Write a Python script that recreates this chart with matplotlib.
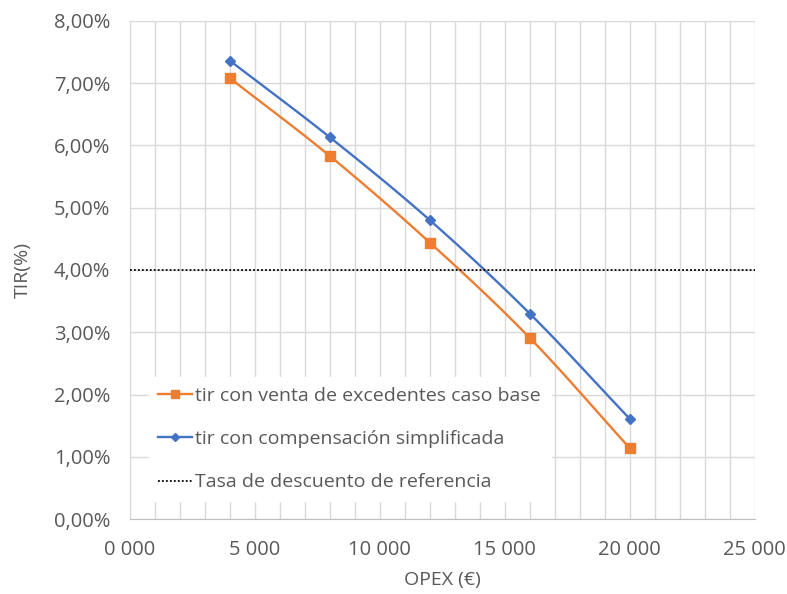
import matplotlib.pyplot as plt
import numpy as np
from matplotlib.ticker import FuncFormatter, MultipleLocator

plt.rcParams['font.family'] = ['Open Sans', 'DejaVu Sans']

# OPEX (€) and internal rate of return (%)
opex = [4000, 8000, 12000, 16000, 20000]
tir_venta = [7.08, 5.83, 4.44, 2.91, 1.14]
tir_compensacion = [7.36, 6.13, 4.80, 3.30, 1.61]
tasa_referencia = 4.0

orange = '#ED7D31'
blue = '#4472C4'
grey = '#595959'


def smooth(x, y, n=30):
    # Catmull-Rom curve through the points, like a smoothed line in a spreadsheet
    x = np.asarray(x, float)
    y = np.asarray(y, float)
    px = np.concatenate([[2 * x[0] - x[1]], x, [2 * x[-1] - x[-2]]])
    py = np.concatenate([[2 * y[0] - y[1]], y, [2 * y[-1] - y[-2]]])
    xs, ys = [], []
    t = np.linspace(0, 1, n)
    for i in range(1, len(px) - 2):
        for p, out in ((px, xs), (py, ys)):
            p0, p1, p2, p3 = p[i - 1], p[i], p[i + 1], p[i + 2]
            out.extend(0.5 * (2 * p1 + (-p0 + p2) * t
                              + (2 * p0 - 5 * p1 + 4 * p2 - p3) * t ** 2
                              + (-p0 + 3 * p1 - 3 * p2 + p3) * t ** 3))
    return xs, ys


fig = plt.figure(figsize=(7.87, 5.94), dpi=100)
ax = fig.add_axes([0.165, 0.126, 0.794, 0.839])

xs, ys = smooth(opex, tir_venta)
ax.plot(xs, ys, color=orange, lw=1.7, zorder=3)
ax.plot(opex, tir_venta, ls='none', marker='s', ms=7, color=orange, zorder=4)
ax.plot([], [], color=orange, lw=1.7, marker='s', ms=6,
        label='tir con venta de excedentes caso base')

xs, ys = smooth(opex, tir_compensacion)
ax.plot(xs, ys, color=blue, lw=1.7, zorder=3)
ax.plot(opex, tir_compensacion, ls='none', marker='D', ms=5, color=blue, zorder=4)
ax.plot([], [], color=blue, lw=1.7, marker='D', ms=4,
        label='tir con compensación simplificada')

ax.axhline(tasa_referencia, color='black', lw=1.3, ls=(0, (1, 1.2)), zorder=3,
           label='Tasa de descuento de referencia')

ax.set_xlim(0, 25000)
ax.set_ylim(0, 8)
ax.xaxis.set_major_locator(MultipleLocator(5000))
ax.xaxis.set_minor_locator(MultipleLocator(1000))
ax.yaxis.set_major_locator(MultipleLocator(1))
ax.xaxis.set_major_formatter(FuncFormatter(lambda v, p: f'{int(v):05,}'.replace(',', ' ')))
ax.yaxis.set_major_formatter(FuncFormatter(lambda v, p: f'{v:.2f}%'.replace('.', ',')))

ax.grid(True, which='both', axis='x', color='#d9d9d9', lw=1)
ax.grid(True, which='major', axis='y', color='#d9d9d9', lw=1)
ax.set_axisbelow(True)
for s in ('top', 'right'):
    ax.spines[s].set_visible(False)
ax.spines['left'].set_color('#d9d9d9')
ax.spines['bottom'].set_color('#bfbfbf')
ax.tick_params(which='both', length=0, labelsize=14.5, colors=grey)
ax.tick_params(axis='x', pad=15)
ax.tick_params(axis='y', pad=14)

ax.set_xlabel('OPEX (€)', fontsize=14, color=grey, labelpad=8)
ax.set_ylabel('TIR(%)', fontsize=14, color=grey, labelpad=16)

leg = ax.legend(loc='upper left', bbox_to_anchor=(0.03, 0.285), frameon=True,
                fontsize=14, handlelength=1.75, handletextpad=0.15,
                labelspacing=1.3, borderaxespad=0, borderpad=0.5,
                fancybox=False)
leg.get_frame().set_edgecolor('white')
leg.get_frame().set_facecolor('white')
leg.get_frame().set_alpha(1)
leg.set_zorder(5)
for t in leg.get_texts():
    t.set_color(grey)

fig.savefig('out.png', dpi=100)
